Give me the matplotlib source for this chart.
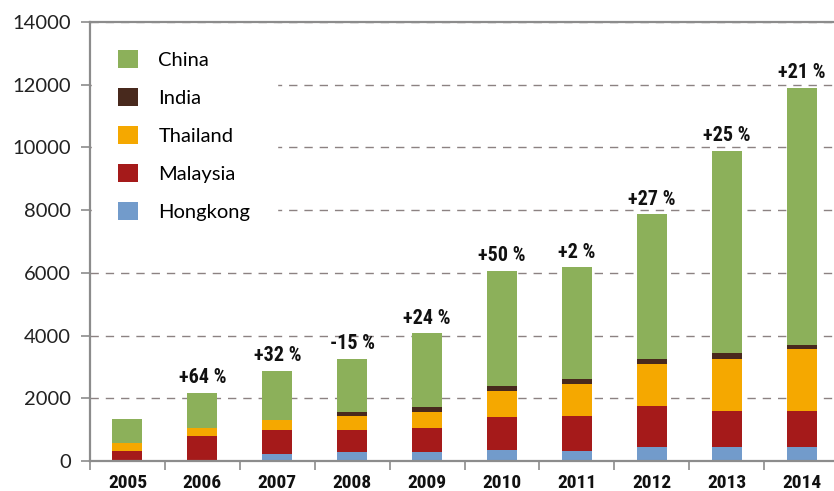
import numpy as np
import matplotlib
matplotlib.use("Agg")
import matplotlib.pyplot as plt
from matplotlib import font_manager as fm

years = ["2005", "2006", "2007", "2008", "2009", "2010", "2011", "2012", "2013", "2014"]
hongkong = [0, 0, 220, 290, 290, 350, 320, 445, 445, 445]
malaysia = [320, 800, 770, 700, 760, 1050, 1115, 1310, 1150, 1150]
thailand = [245, 250, 320, 445, 510, 830, 1020, 1340, 1660, 1975]
india = [0, 0, 0, 130, 160, 160, 160, 160, 190, 130]
china = [775, 1120, 1560, 1690, 2360, 3670, 3570, 4620, 6440, 8200]
growth = ["", "+64 %", "+32 %", "-15 %", "+24 %", "+50 %", "+2 %", "+27 %", "+25 %", "+21 %"]

series = [("Hongkong", hongkong, "#729bcb"),
          ("Malaysia", malaysia, "#a51a1a"),
          ("Thailand", thailand, "#f5a800"),
          ("India", india, "#48291d"),
          ("China", china, "#8cb05a")]

regular = ["Lato", "DejaVu Sans"]

# look for a condensed bold face among installed fonts
narrow_file = None
for f in fm.fontManager.ttflist:
    fn = f.fname.lower()
    if ("condensed" in fn or "narrow" in fn) and "bold" in fn and "extra" not in fn \
            and "semi" not in fn and "italic" not in fn and "oblique" not in fn:
        if narrow_file is None or "liberation" in fn or "roboto" in fn:
            narrow_file = f.fname
if narrow_file:
    pct_fp = fm.FontProperties(fname=narrow_file, size=14.5)
    year_fp = fm.FontProperties(fname=narrow_file, size=14)
else:
    pct_fp = fm.FontProperties(family="DejaVu Sans", weight="bold", stretch="condensed", size=12.5)
    year_fp = pct_fp

fig = plt.figure(figsize=(8.34, 4.91), dpi=100)
ax = fig.add_axes([90 / 834, 30 / 491, 749 / 834, 439 / 491])

x = np.arange(len(years))
bottom = np.zeros(len(years))
handles = {}
for name, vals, col in series:
    b = ax.bar(x, vals, 0.4, bottom=bottom, color=col, zorder=2)
    handles[name] = b
    bottom += np.array(vals)

# growth labels above each stack
for xi, tot, lab in zip(x, bottom, growth):
    if lab:
        ax.annotate(lab, (xi, tot), xytext=(0, 4), textcoords="offset points",
                    ha="center", va="bottom", fontproperties=pct_fp, color="#111111")

ax.set_xlim(-0.5, 9.5)
ax.set_ylim(0, 14000)
ax.set_yticks(range(0, 14001, 2000))
ax.set_yticklabels([str(v) for v in range(0, 14001, 2000)], family=regular, fontsize=14.5, color="#222222")
ax.set_xticks(x)
ax.set_xticklabels(years, fontproperties=year_fp, color="#111111")
ax.set_xticks(np.arange(-0.5, 10, 1), minor=True)
ax.tick_params(axis="x", which="major", length=0, pad=9)
ax.tick_params(axis="x", which="minor", length=6.5, width=1.2, color="#8c8c8c")
ax.tick_params(axis="y", length=6.5, width=1.2, color="#8c8c8c", pad=7)

ax.yaxis.grid(True, linestyle=(0, (6, 5)), color="#8c8282", linewidth=1.0)
ax.set_axisbelow(True)

for side in ["left", "bottom", "top"]:
    ax.spines[side].set_color("#8c8c8c")
    ax.spines[side].set_linewidth(1.6)
ax.spines["right"].set_visible(False)

order = ["China", "India", "Thailand", "Malaysia", "Hongkong"]
leg = ax.legend([handles[n] for n in order], order, loc="upper left",
                bbox_to_anchor=(0, 1), borderaxespad=0.1, borderpad=1.3,
                prop={"family": regular, "size": 14.5},
                handlelength=1.0, handleheight=1.0, handletextpad=1.0,
                labelspacing=0.95, frameon=True, fancybox=False)
leg.get_frame().set_facecolor("white")
leg.get_frame().set_edgecolor("white")
leg.get_frame().set_alpha(1)

fig.savefig("out.png", dpi=100)
